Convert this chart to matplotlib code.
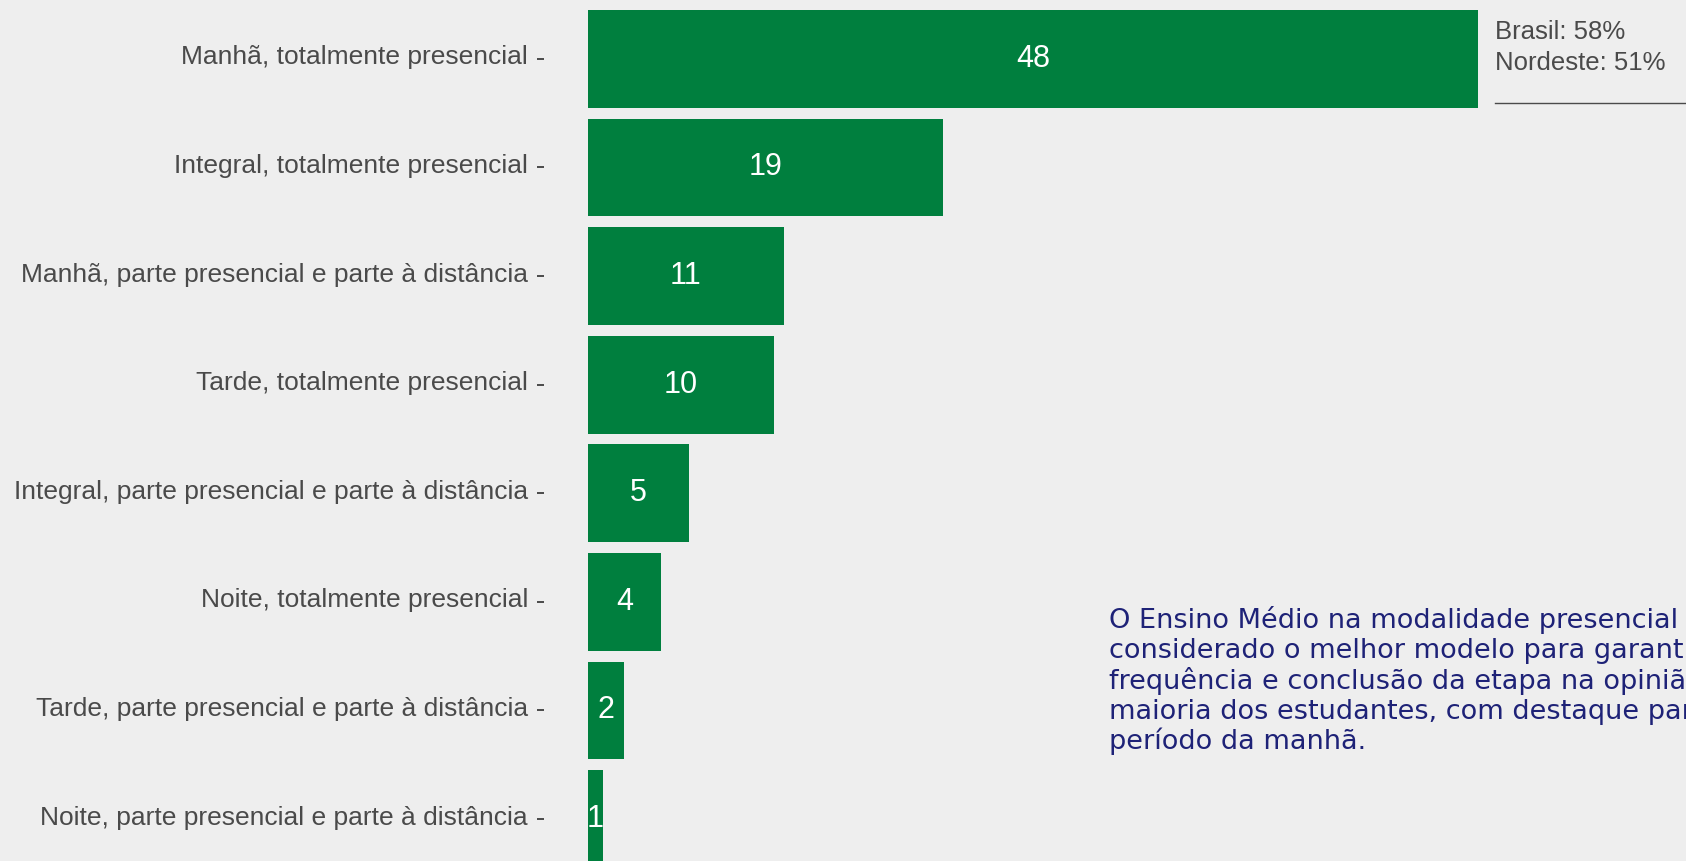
import matplotlib.pyplot as plt
import matplotlib.transforms as mtransforms

plt.rcParams['font.family'] = ['Liberation Sans', 'DejaVu Sans']

categorias = [
    'Manhã, totalmente presencial',
    'Integral, totalmente presencial',
    'Manhã, parte presencial e parte à distância',
    'Tarde, totalmente presencial',
    'Integral, parte presencial e parte à distância',
    'Noite, totalmente presencial',
    'Tarde, parte presencial e parte à distância',
    'Noite, parte presencial e parte à distância',
]
valores = [48.0, 19.15, 10.57, 10.03, 5.45, 3.94, 1.94, 0.81]
rotulos = ['48', '19', '11', '10', '5', '4', '2', '1']

nota_comparacao = ['Brasil: 58%', 'Nordeste: 51%']
nota_texto = [
    'O Ensino Médio na modalidade presencial é',
    'considerado o melhor modelo para garantir a',
    'frequência e conclusão da etapa na opinião da',
    'maioria dos estudantes, com destaque para o',
    'período da manhã.',
]

fundo = '#eeeeee'
verde = '#007f3e'
cinza = '#4a4a4a'
azul = '#1e2277'

W, H = 1686, 861
fig = plt.figure(figsize=(W / 100, H / 100), dpi=100, facecolor=fundo)
ax = fig.add_axes([588 / W, 0, 1 - 588 / W, 1])
ax.set_facecolor('none')

# eixo deslocado para a esquerda (antes de definir os rótulos)
for s in ['top', 'right', 'bottom']:
    ax.spines[s].set_visible(False)
ax.spines['left'].set_position(('outward', 31.7))
ax.spines['left'].set_color('none')

y = list(range(len(categorias)))
bars = ax.barh(y, valores, height=0.9, color=verde)
for b, r in zip(bars, rotulos):
    ax.text(b.get_x() + b.get_width() / 2, b.get_y() + b.get_height() / 2, r,
            ha='center', va='center', color='white', fontsize=22)

ax.set_xlim(0, (W - 588) / 18.54)
ax.set_ylim(7.386, -0.542)

ax.set_yticks(y)
ax.set_yticklabels(categorias)
ax.set_xticks([])
ax.tick_params(axis='y', length=5, width=1.4, color=cinza, pad=6.5,
               labelsize=19, labelcolor=cinza)
# rótulos um pouco acima do centro da barra
sobe = mtransforms.ScaledTranslation(0, 4 / 100, fig.dpi_scale_trans)
for lab in ax.get_yticklabels():
    lab.set_transform(lab.get_transform() + sobe)

# nota Brasil / Nordeste
for i, linha in enumerate(nota_comparacao):
    fig.text(1495 / W, 1 - (39 + i * 31) / H, linha, fontsize=18.5, color=cinza,
             ha='left', va='baseline')
fig.add_artist(plt.Line2D([1495 / W, 1], [1 - 103 / H, 1 - 103 / H],
                          color=cinza, linewidth=1))

# comentário (cortado na borda direita, como no original)
for i, linha in enumerate(nota_texto):
    fig.text(1109 / W, 1 - (628 + i * 30.3) / H, linha, fontsize=19.5, color=azul,
             ha='left', va='baseline', family='DejaVu Sans')

fig.savefig('out.png', dpi=100, facecolor=fundo)
